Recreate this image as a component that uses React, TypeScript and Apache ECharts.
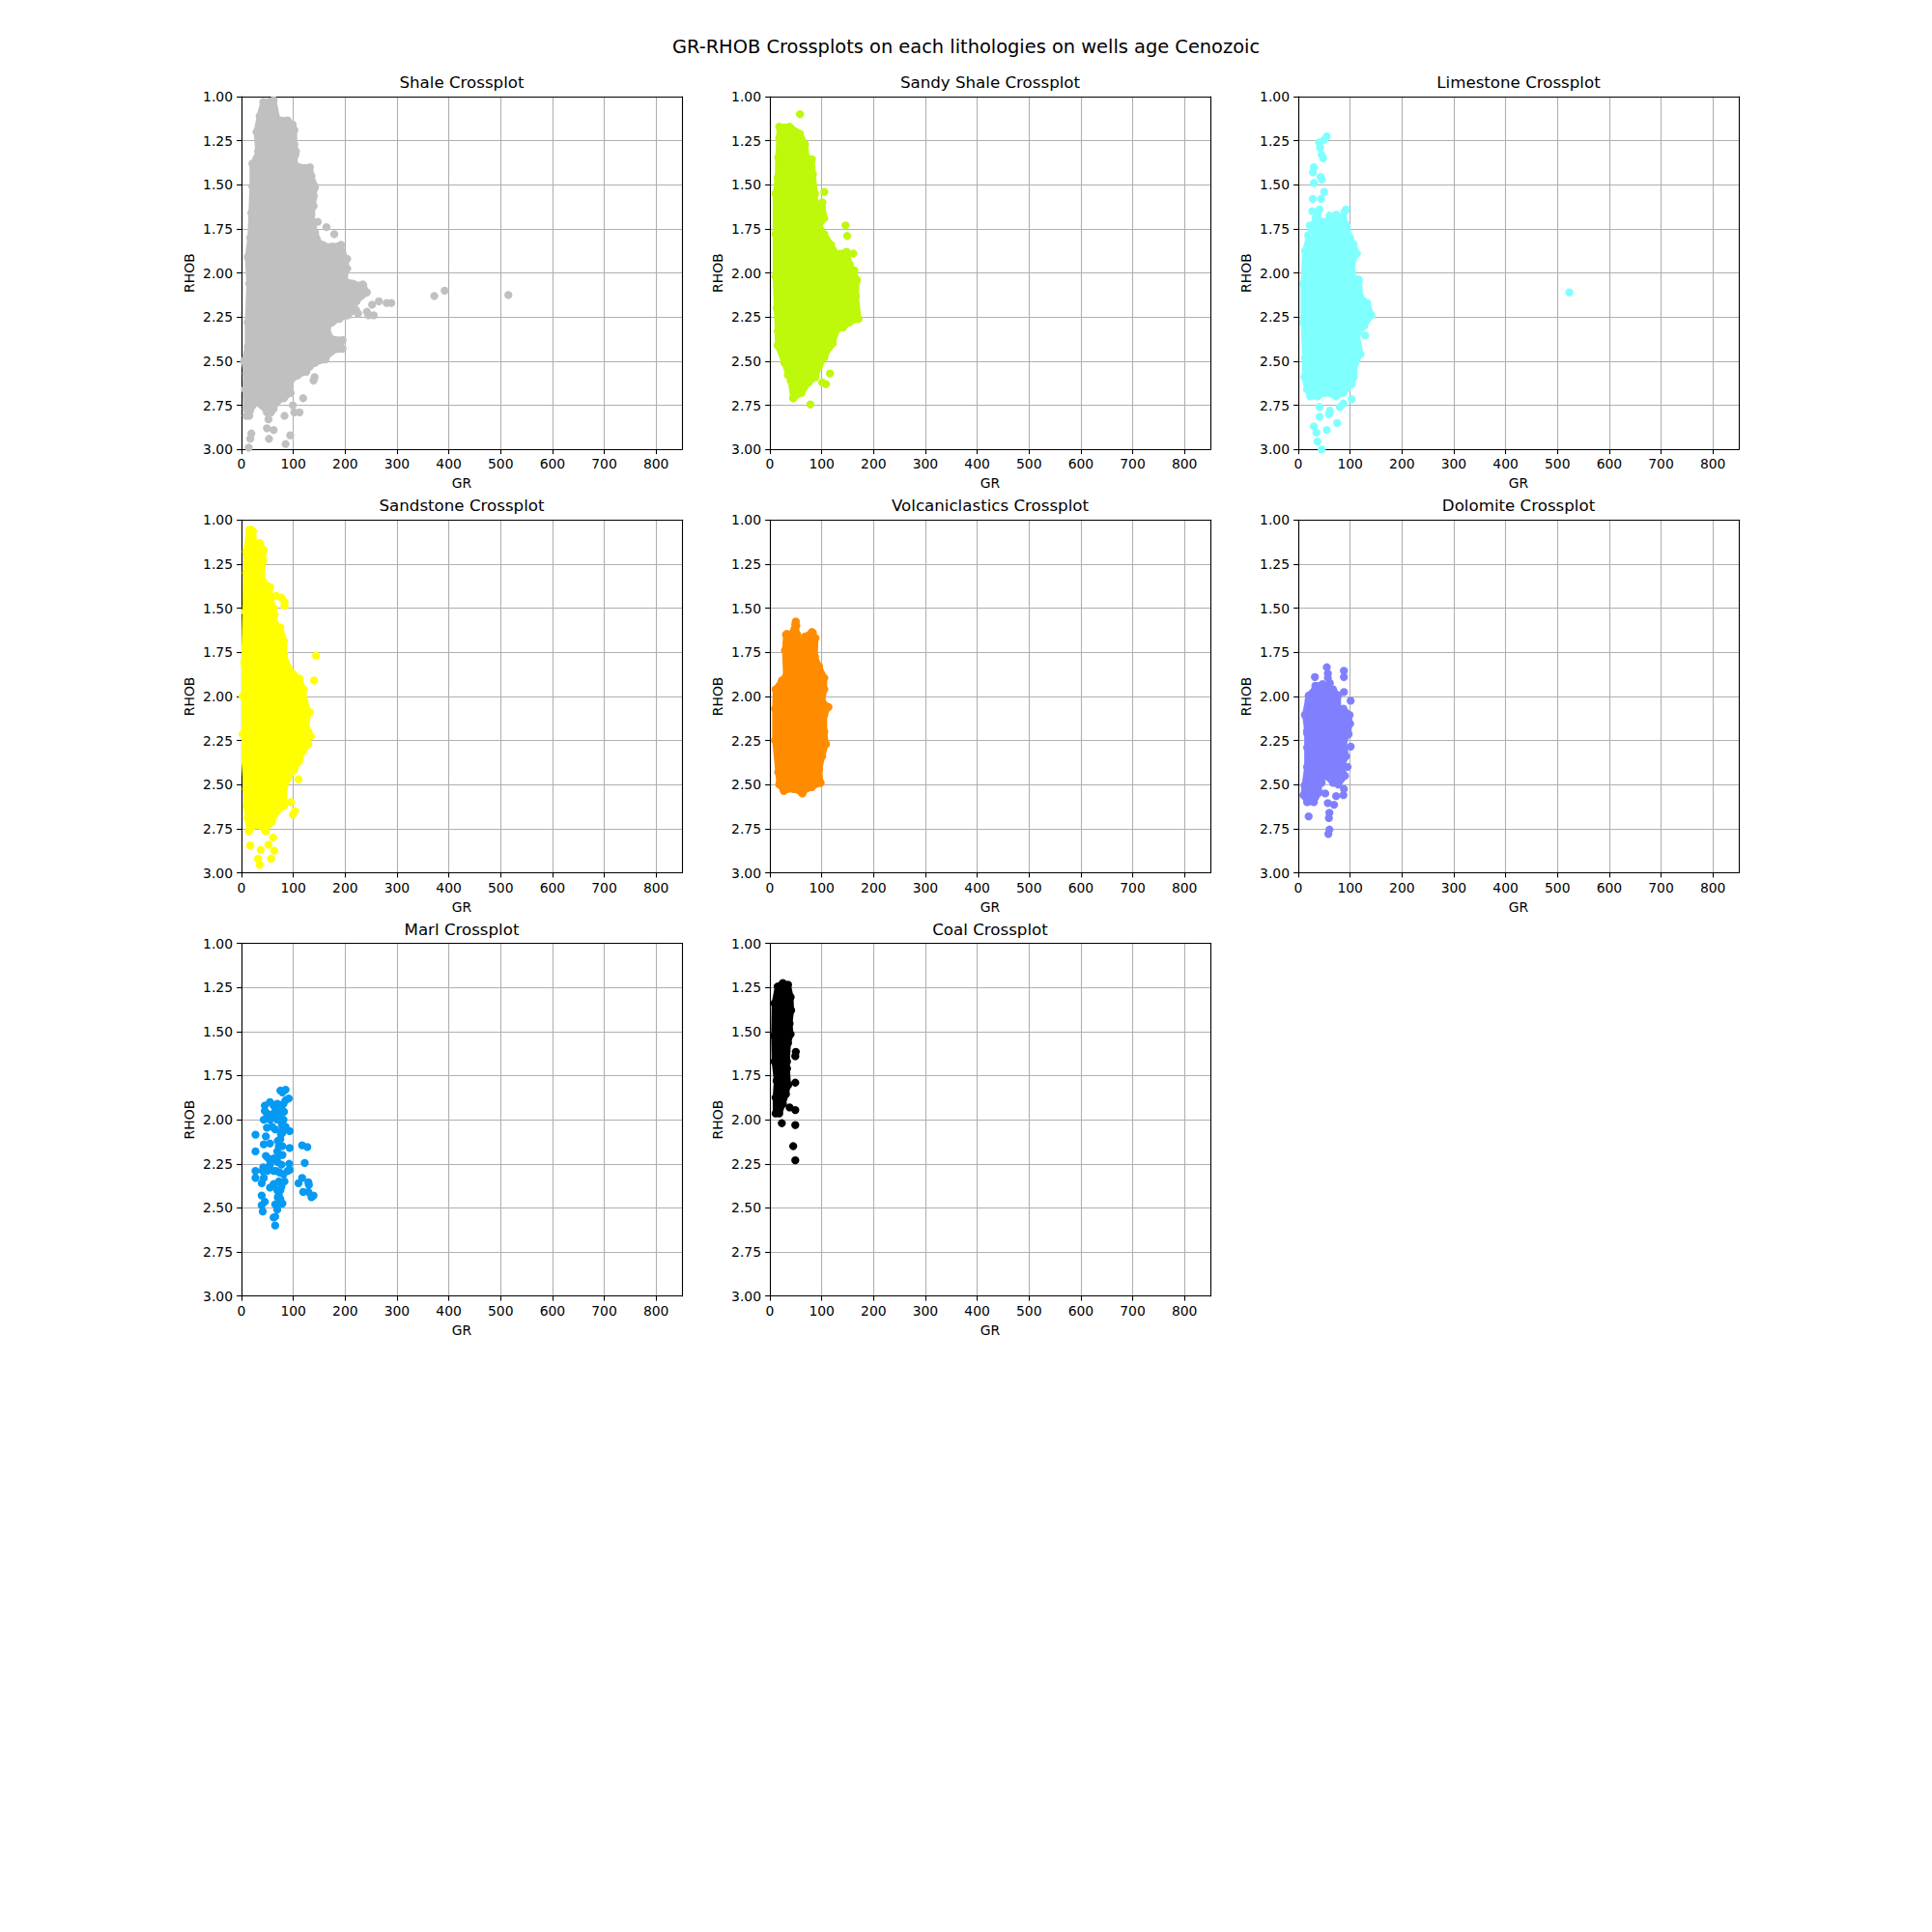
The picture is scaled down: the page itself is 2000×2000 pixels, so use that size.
import React, { useEffect, useRef } from "react";
import * as echarts from "echarts";

// ---------- DATA (GR, RHOB) ----------
const panelTitles = [
  "Shale Crossplot",
  "Sandy Shale Crossplot",
  "Limestone Crossplot",
  "Sandstone Crossplot",
  "Volcaniclastics Crossplot",
  "Dolomite Crossplot",
  "Marl Crossplot",
  "Coal Crossplot",
];
const panelColors = ["#c0c0c0", "#bef80a", "#80ffff", "#ffff00", "#ff8c00", "#8080ff", "#069af3", "#000000"];
const xTickValues = [0, 100, 200, 300, 400, 500, 600, 700, 800];
const yTickValues = [1.0, 1.25, 1.5, 1.75, 2.0, 2.25, 2.5, 2.75, 3.0];
const suptitle = "GR-RHOB Crossplots on each lithologies on wells age Cenozoic";

// dense-cluster envelopes (data space) + individual points
const shaleOutline = [
  [62, 1.02], [69, 1.126], [89, 1.135], [99, 1.16], [102, 1.19], [102, 1.27], [105, 1.31], [102, 1.38],
  [112, 1.4], [132, 1.4], [135, 1.45], [142, 1.51], [139, 1.56], [139, 1.62], [135, 1.67], [142, 1.77],
  [152, 1.84], [175, 1.85], [192, 1.84], [195, 1.89], [202, 1.92], [202, 1.98], [199, 2.04], [215, 2.06],
  [235, 2.07], [242, 2.11], [222, 2.16], [212, 2.22], [202, 2.24], [189, 2.26], [175, 2.28], [165, 2.31],
  [172, 2.37], [195, 2.38], [189, 2.43], [172, 2.45], [162, 2.49], [142, 2.51], [132, 2.53], [125, 2.56],
  [109, 2.58], [95, 2.61], [95, 2.68], [82, 2.71], [69, 2.73], [62, 2.77], [49, 2.79], [39, 2.75],
  [32, 2.71], [22, 2.75], [15, 2.81], [9, 2.77], [7, 2.66], [9, 2.57], [5, 2.5], [12, 2.42], [12, 2.28],
  [15, 2.06], [12, 1.91], [17, 1.8], [19, 1.66], [21, 1.51], [21, 1.38], [29, 1.35], [32, 1.31], [29, 1.2],
  [35, 1.11], [42, 1.03],
];
const shalePoints = [
  [515, 2.125], [392, 2.1], [372, 2.13], [289, 2.17], [280, 2.17], [265, 2.16], [252, 2.18], [255, 2.24],
  [245, 2.24], [242, 2.22], [225, 2.23], [221, 2.21], [205, 2.24], [235, 2.12], [234, 2.065], [147, 1.71],
  [164, 1.74], [179, 1.78], [157, 1.84], [204, 1.92], [204, 1.975], [197, 1.95], [195, 2.43], [139, 2.61],
  [141, 2.59], [119, 2.71], [112, 2.79], [102, 2.79], [83, 2.81], [94, 2.92], [85, 2.97], [62, 2.89],
  [53, 2.94], [49, 2.88], [19, 2.91], [17, 2.94], [14, 2.99], [35, 2.74], [9, 2.81], [99, 2.75], [52, 2.83],
  [57, 2.79], [43, 1.035], [55, 1.03], [39, 1.09], [32, 1.2], [34, 1.31], [99, 1.19], [95, 1.16], [104, 1.33],
  [141, 1.52], [139, 1.57], [138, 1.62],
];

const sandyShaleOutline = [
  [18, 1.17], [38, 1.17], [58, 1.21], [68, 1.27], [71, 1.345], [81, 1.355], [83, 1.44], [87, 1.55], [88, 1.64],
  [101, 1.6], [105, 1.69], [95, 1.73], [105, 1.78], [118, 1.84], [128, 1.89], [148, 1.88], [154, 1.95],
  [161, 1.99], [168, 2.04], [166, 2.13], [171, 2.26], [154, 2.28], [141, 2.31], [131, 2.315], [121, 2.39],
  [115, 2.42], [105, 2.48], [95, 2.53], [88, 2.59], [75, 2.62], [61, 2.68], [45, 2.71], [40, 2.61], [35, 2.57],
  [28, 2.51], [15, 2.41], [15, 2.33], [13, 2.2], [11, 2.02], [11, 1.78], [11, 1.55], [15, 1.46], [16, 1.345],
  [18, 1.235],
];
const sandyShalePoints = [
  [58, 1.1], [105, 1.54], [101, 1.6], [146, 1.73], [149, 1.79], [161, 1.89], [163, 1.985], [116, 2.57],
  [108, 2.63], [101, 2.62], [78, 2.745], [45, 2.71], [55, 2.68], [168, 2.26], [163, 2.24], [121, 2.4],
  [111, 2.43], [21, 1.18], [38, 1.18], [21, 1.33], [15, 1.46], [13, 2.02], [15, 2.41], [35, 2.58], [48, 2.61],
];

const limestoneOutline = [
  [13, 1.875], [20, 1.8], [33, 1.69], [53, 1.71], [63, 1.68], [73, 1.67], [87, 1.69], [93, 1.73], [100, 1.8],
  [107, 1.84], [113, 1.89], [103, 1.95], [107, 2.04], [117, 2.04], [120, 2.14], [133, 2.17], [141, 2.24],
  [127, 2.3], [113, 2.35], [120, 2.46], [110, 2.51], [107, 2.59], [103, 2.63], [87, 2.68], [73, 2.7],
  [53, 2.68], [37, 2.7], [23, 2.7], [17, 2.66], [12, 2.59], [13, 2.48], [10, 2.28], [10, 2.06],
];
const limestonePoints = [
  [523, 2.11], [55, 1.225], [50, 1.245], [40, 1.26], [42, 1.29], [45, 1.33], [48, 1.35], [30, 1.4], [28, 1.43],
  [30, 1.49], [43, 1.455], [45, 1.47], [50, 1.54], [28, 1.58], [44, 1.58], [41, 1.64], [27, 1.65], [37, 1.67],
  [60, 1.675], [73, 1.67], [92, 1.64], [89, 1.655], [22, 1.73], [19, 1.785], [19, 1.84], [110, 1.89],
  [115, 2.035], [120, 2.14], [133, 2.18], [129, 2.355], [103, 2.715], [41, 2.76], [61, 2.78], [80, 2.76],
  [87, 2.74], [41, 2.815], [59, 2.8], [75, 2.85], [30, 2.87], [35, 2.905], [55, 2.89], [37, 2.955], [45, 3.0],
];

const sandstoneOutline = [
  [15, 1.055], [22, 1.064], [25, 1.13], [35, 1.13], [43, 1.17], [42, 1.23], [39, 1.32], [45, 1.36], [55, 1.38],
  [55, 1.43], [62, 1.5], [61, 1.56], [65, 1.59], [75, 1.61], [82, 1.685], [82, 1.76], [89, 1.83], [99, 1.87],
  [112, 1.9], [119, 1.96], [122, 2.03], [129, 2.09], [125, 2.18], [129, 2.27], [119, 2.31], [112, 2.36],
  [102, 2.415], [89, 2.47], [82, 2.525], [82, 2.62], [69, 2.65], [59, 2.71], [45, 2.76], [35, 2.73],
  [25, 2.73], [15, 2.76], [12, 2.69], [10, 2.62], [9, 2.525], [2, 2.215], [2, 2.0], [5, 1.81], [7, 1.52],
  [9, 1.3], [9, 1.18],
];
const sandstonePoints = [
  [19, 1.055], [17, 1.12], [144, 1.77], [140, 1.91], [120, 1.96], [132, 2.09], [129, 2.2], [134, 2.225],
  [110, 2.47], [109, 2.375], [95, 2.6], [99, 2.67], [103, 2.65], [82, 2.62], [61, 2.8], [63, 2.875], [57, 2.92],
  [52, 2.84], [37, 2.87], [32, 2.92], [35, 2.955], [17, 2.845], [14, 2.765], [17, 2.65], [83, 1.485],
  [83, 1.465], [77, 1.44], [67, 1.43], [64, 1.535], [81, 1.685], [47, 2.765],
];

const volcaniclasticsOutline = [
  [11, 1.96], [23, 1.91], [31, 1.885], [29, 1.74], [31, 1.65], [41, 1.65], [49, 1.59], [53, 1.65], [55, 1.775],
  [56, 1.81], [58, 1.7], [68, 1.66], [81, 1.635], [88, 1.67], [87, 1.775], [95, 1.83], [105, 1.895],
  [105, 1.96], [101, 2.03], [113, 2.06], [105, 2.105], [105, 2.2], [108, 2.27], [101, 2.34], [95, 2.415],
  [98, 2.49], [81, 2.515], [61, 2.545], [45, 2.525], [27, 2.535], [18, 2.5], [16, 2.43], [10, 2.25], [10, 2.07],
];
const volcaniclasticsPoints = [
  [50, 1.575], [51, 1.6], [33, 1.645], [83, 1.64], [111, 2.06], [108, 2.27], [95, 2.49], [63, 2.55],
  [27, 2.535], [80, 2.51], [49, 2.525],
];

const dolomiteOutline = [
  [13, 2.105], [20, 1.995], [27, 1.98], [33, 1.94], [47, 1.93], [57, 1.96], [67, 1.96], [77, 1.995], [77, 2.07],
  [87, 2.07], [99, 2.105], [97, 2.215], [88, 2.25], [92, 2.34], [83, 2.4], [90, 2.45], [77, 2.5], [67, 2.49],
  [53, 2.45], [40, 2.49], [40, 2.545], [30, 2.6], [17, 2.6], [10, 2.56], [12, 2.505], [17, 2.4], [17, 2.29],
  [17, 2.195],
];
const dolomitePoints = [
  [55, 1.835], [57, 1.87], [57, 1.895], [32, 1.89], [61, 1.925], [88, 1.855], [88, 1.89], [88, 1.975],
  [101, 2.025], [100, 2.155], [101, 2.285], [95, 2.4], [88, 2.525], [87, 2.56], [73, 2.565], [69, 2.615],
  [57, 2.605], [52, 2.55], [60, 2.66], [59, 2.69], [60, 2.755], [58, 2.78], [20, 2.68], [45, 2.49], [17, 2.21],
  [13, 2.105], [20, 2.02],
];

const marlOutline: number[][] = [];
const marlPoints = [
  [27, 2.085], [27, 2.18], [27, 2.29], [27, 2.33], [39, 2.43], [39, 2.485], [41, 2.52], [45, 2.465], [43, 2.33],
  [42, 2.27], [43, 2.14], [47, 2.095], [47, 2.205], [39, 2.36], [50, 2.29], [55, 2.135], [55, 2.385], [62, 2.365],
  [62, 2.29], [62, 2.22], [65, 2.55], [65, 2.6], [69, 2.51], [72, 2.475], [72, 2.43], [75, 2.4], [79, 2.475],
  [75, 2.45], [69, 2.4], [72, 2.35], [67, 2.29], [69, 2.24], [69, 2.18], [72, 2.15], [75, 2.11], [79, 2.075],
  [79, 2.15], [79, 2.2], [77, 2.255], [81, 2.31], [83, 2.35], [89, 2.29], [92, 2.25], [93, 2.285], [93, 2.16],
  [93, 2.065], [85, 2.04], [81, 2.0], [82, 1.955], [81, 1.91], [85, 1.89], [91, 1.88], [85, 1.83], [79, 1.845],
  [75, 1.835], [77, 1.93], [72, 1.965], [69, 2.0], [65, 2.055], [62, 1.965], [62, 1.92], [55, 1.9], [45, 1.92],
  [49, 1.965], [43, 2.0], [49, 2.045], [55, 2.0], [59, 2.04], [69, 1.91], [110, 2.36], [117, 2.145], [117, 2.33],
  [119, 2.41], [122, 2.245], [127, 2.155], [129, 2.355], [129, 2.41], [130, 2.37], [135, 2.44], [139, 2.43],
  [62, 2.555], [65, 2.48], [72, 2.205], [55, 2.255], [52, 2.22], [41, 2.29], [45, 1.95], [52, 1.97], [58, 1.98],
  [66, 1.94], [74, 1.99], [78, 2.03], [80, 2.06], [76, 2.08], [70, 2.12], [74, 2.3], [77, 2.38], [70, 2.44],
];

const coalOutline = [
  [15, 1.245], [25, 1.225], [35, 1.235], [40, 1.305], [41, 1.38], [38, 1.455], [40, 1.515], [35, 1.565],
  [33, 1.67], [33, 1.71], [35, 1.8], [31, 1.855], [25, 1.91], [18, 1.965], [11, 1.965], [11, 1.875], [13, 1.78],
  [9, 1.67], [8, 1.525], [9, 1.34],
];
const coalPoints = [
  [50, 1.615], [49, 1.64], [49, 1.79], [49, 1.945], [49, 2.03], [45, 2.15], [49, 2.23], [23, 2.02], [38, 1.93],
  [35, 1.805], [38, 1.515],
];

const outlines = [shaleOutline, sandyShaleOutline, limestoneOutline, sandstoneOutline, volcaniclasticsOutline, dolomiteOutline, marlOutline, coalOutline];
const pointSets = [shalePoints, sandyShalePoints, limestonePoints, sandstonePoints, volcaniclasticsPoints, dolomitePoints, marlPoints, coalPoints];

// ---------- LAYOUT ----------
const FONT = "DejaVu Sans";
const colLefts = [250, 797, 1344];
const rowTops = [100, 538.3, 976.5];
const gridW = 456;
const gridH = 365.2;

export default function App() {
  const ref = useRef<HTMLDivElement>(null);
  useEffect(() => {
    if (!ref.current) return;
    const chart = echarts.init(ref.current, undefined, { renderer: "svg" });
    const grids: any[] = [];
    const xAxes: any[] = [];
    const yAxes: any[] = [];
    const series: any[] = [];
    const titles: any[] = [
      {
        text: suptitle,
        left: 1000,
        top: 36.5,
        textAlign: "center",
        padding: 0,
        textStyle: { fontFamily: FONT, fontSize: 19.4, fontWeight: "normal", color: "#000", lineHeight: 24 },
      },
    ];
    panelTitles.forEach((t, i) => {
      const r = Math.floor(i / 3);
      const c = i % 3;
      const left = colLefts[c];
      const top = rowTops[r];
      grids.push({ left, top, width: gridW, height: gridH, show: false, containLabel: false });
      titles.push({
        text: t,
        left: left + gridW / 2,
        top: top - 24.5,
        textAlign: "center",
        padding: 0,
        textStyle: { fontFamily: FONT, fontSize: 16.67, fontWeight: "normal", color: "#000", lineHeight: 20 },
      });
      const lab = { fontFamily: FONT, fontSize: 13.9, color: "#000" };
      xAxes.push({
        type: "value",
        gridIndex: i,
        position: "bottom",
        min: 0,
        max: 850,
        interval: 100,
        name: "GR",
        nameLocation: "middle",
        nameGap: 28,
        nameTextStyle: lab,
        axisLine: { show: true, onZero: false, lineStyle: { color: "#000", width: 1.1 } },
        axisTick: { show: true, length: 4.9, lineStyle: { color: "#000", width: 1.1 }, customValues: xTickValues },
        axisLabel: { ...lab, margin: 8, customValues: xTickValues },
        splitLine: { show: true, lineStyle: { color: "#b0b0b0", width: 1.1 } },
        z: 0,
      });
      xAxes.push({
        type: "value",
        gridIndex: i,
        position: "top",
        min: 0,
        max: 850,
        axisLine: { show: true, onZero: false, lineStyle: { color: "#000", width: 1.1 } },
        axisTick: { show: false },
        axisLabel: { show: false },
        splitLine: { show: false },
        z: 1,
      });
      yAxes.push({
        type: "value",
        gridIndex: i,
        position: "left",
        min: 1,
        max: 3,
        interval: 0.25,
        inverse: true,
        name: "RHOB",
        nameLocation: "middle",
        nameGap: 47,
        nameRotate: 90,
        nameTextStyle: lab,
        axisLine: { show: true, onZero: false, lineStyle: { color: "#000", width: 1.1 } },
        axisTick: { show: true, length: 4.9, lineStyle: { color: "#000", width: 1.1 }, customValues: yTickValues },
        axisLabel: { ...lab, margin: 9, formatter: (v: number) => v.toFixed(2), customValues: yTickValues },
        splitLine: { show: true, lineStyle: { color: "#b0b0b0", width: 1.1 } },
        z: 0,
      });
      yAxes.push({
        type: "value",
        gridIndex: i,
        position: "right",
        min: 1,
        max: 3,
        inverse: true,
        axisLine: { show: true, onZero: false, lineStyle: { color: "#000", width: 1.1 } },
        axisTick: { show: false },
        axisLabel: { show: false },
        splitLine: { show: false },
        z: 1,
      });
      const color = panelColors[i];
      const outline = outlines[i];
      if (outline.length > 2) {
        series.push({
          type: "custom",
          xAxisIndex: 2 * i,
          yAxisIndex: 2 * i,
          data: [outline[0]],
          clip: true,
          silent: true,
          z: 2,
          renderItem: (_params: any, api: any) => {
            const pts = outline.map((p) => api.coord(p));
            return {
              type: "polygon",
              shape: { points: pts },
              style: { fill: color, stroke: color, lineWidth: 6, lineJoin: "round" },
            };
          },
        });
      }
      series.push({
        type: "scatter",
        xAxisIndex: 2 * i,
        yAxisIndex: 2 * i,
        data: [...outline, ...pointSets[i]],
        symbol: "circle",
        symbolSize: 8.3,
        itemStyle: { color, opacity: 1 },
        silent: true,
        clip: true,
        z: 3,
      });
    });
    chart.setOption({
      animation: false,
      backgroundColor: "#fff",
      title: titles,
      grid: grids,
      xAxis: xAxes,
      yAxis: yAxes,
      series,
    });
    return () => chart.dispose();
  }, []);
  return <div ref={ref} style={{ position: "absolute", left: 0, top: 0, width: 2000, height: 2000 }} />;
}
